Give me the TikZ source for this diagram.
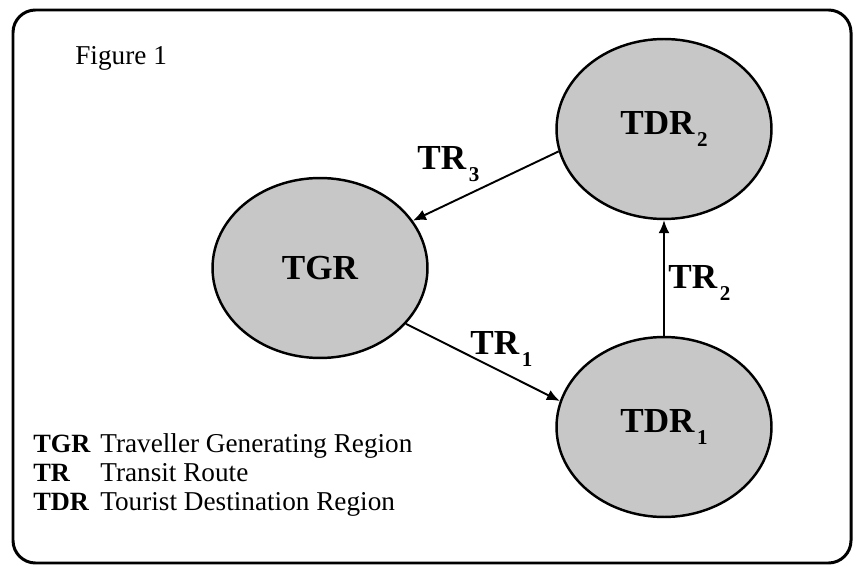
\documentclass[tikz,border=0pt]{standalone}
\usepackage{fontspec}
\setmainfont{Liberation Serif}
\usetikzlibrary{shapes.geometric, arrows.meta, positioning}

\newcommand\lowsub[1]{\kern1.5pt\raisebox{-0.32em}{\fontsize{12}{12}\selectfont #1}}

\begin{document}
\begin{tikzpicture}[x=0.02cm, y=-0.02cm,
  region/.style={ellipse, draw, line width=1.4pt, fill=black!22,
    minimum width=4.3cm, minimum height=3.6cm, inner sep=0pt,
    font=\fontsize{20}{24}\selectfont\bfseries},
  route/.style={line width=1.1pt, -{Latex[length=2.6mm, width=2.2mm]}},
  trlabel/.style={anchor=base west, inner sep=0pt,
    font=\fontsize{20}{24}\selectfont\bfseries},
  keyabbr/.style={anchor=base west, inner sep=0pt,
    font=\fontsize{15}{18}\selectfont\bfseries},
  keytext/.style={anchor=base west, inner sep=0pt,
    font=\fontsize{15.5}{18}\selectfont}]
\useasboundingbox (0,0) rectangle (858,567);

% frame
\draw[line width=1.7pt, rounded corners=0.45cm] (13,10) rectangle (851,563);
\node[keytext] (title) at (75,65) {Figure 1};

% regions
\node[region] (tgr) at (320,268) {TGR};
\node[region] (tdr2) at (664,129) {TDR\lowsub{2}};
\node[region] (tdr1) at (664,427) {TDR\lowsub{1}};

% transit routes
\draw[route] (tgr.-33) -- (tdr1.166);
\draw[route] (tdr1.north) -- (tdr2.south);
\draw[route] (tdr2.192) -- (tgr.27);

\node[trlabel] (tr1) at (470,355) {TR\lowsub{1}};
\node[trlabel] (tr2) at (668,289) {TR\lowsub{2}};
\node[trlabel] (tr3) at (417,170) {TR\lowsub{3}};

% key
\node[keyabbr] (kTGR) at (33,452) {TGR};
\node[keytext] (dTGR) at (100,452) {Traveller Generating Region};
\node[keyabbr] (kTR) at (33,481) {TR};
\node[keytext] (dTR) at (100,481) {Transit Route};
\node[keyabbr] (kTDR) at (33,510) {TDR};
\node[keytext] (dTDR) at (100,510) {Tourist Destination Region};
\end{tikzpicture}
\end{document}
